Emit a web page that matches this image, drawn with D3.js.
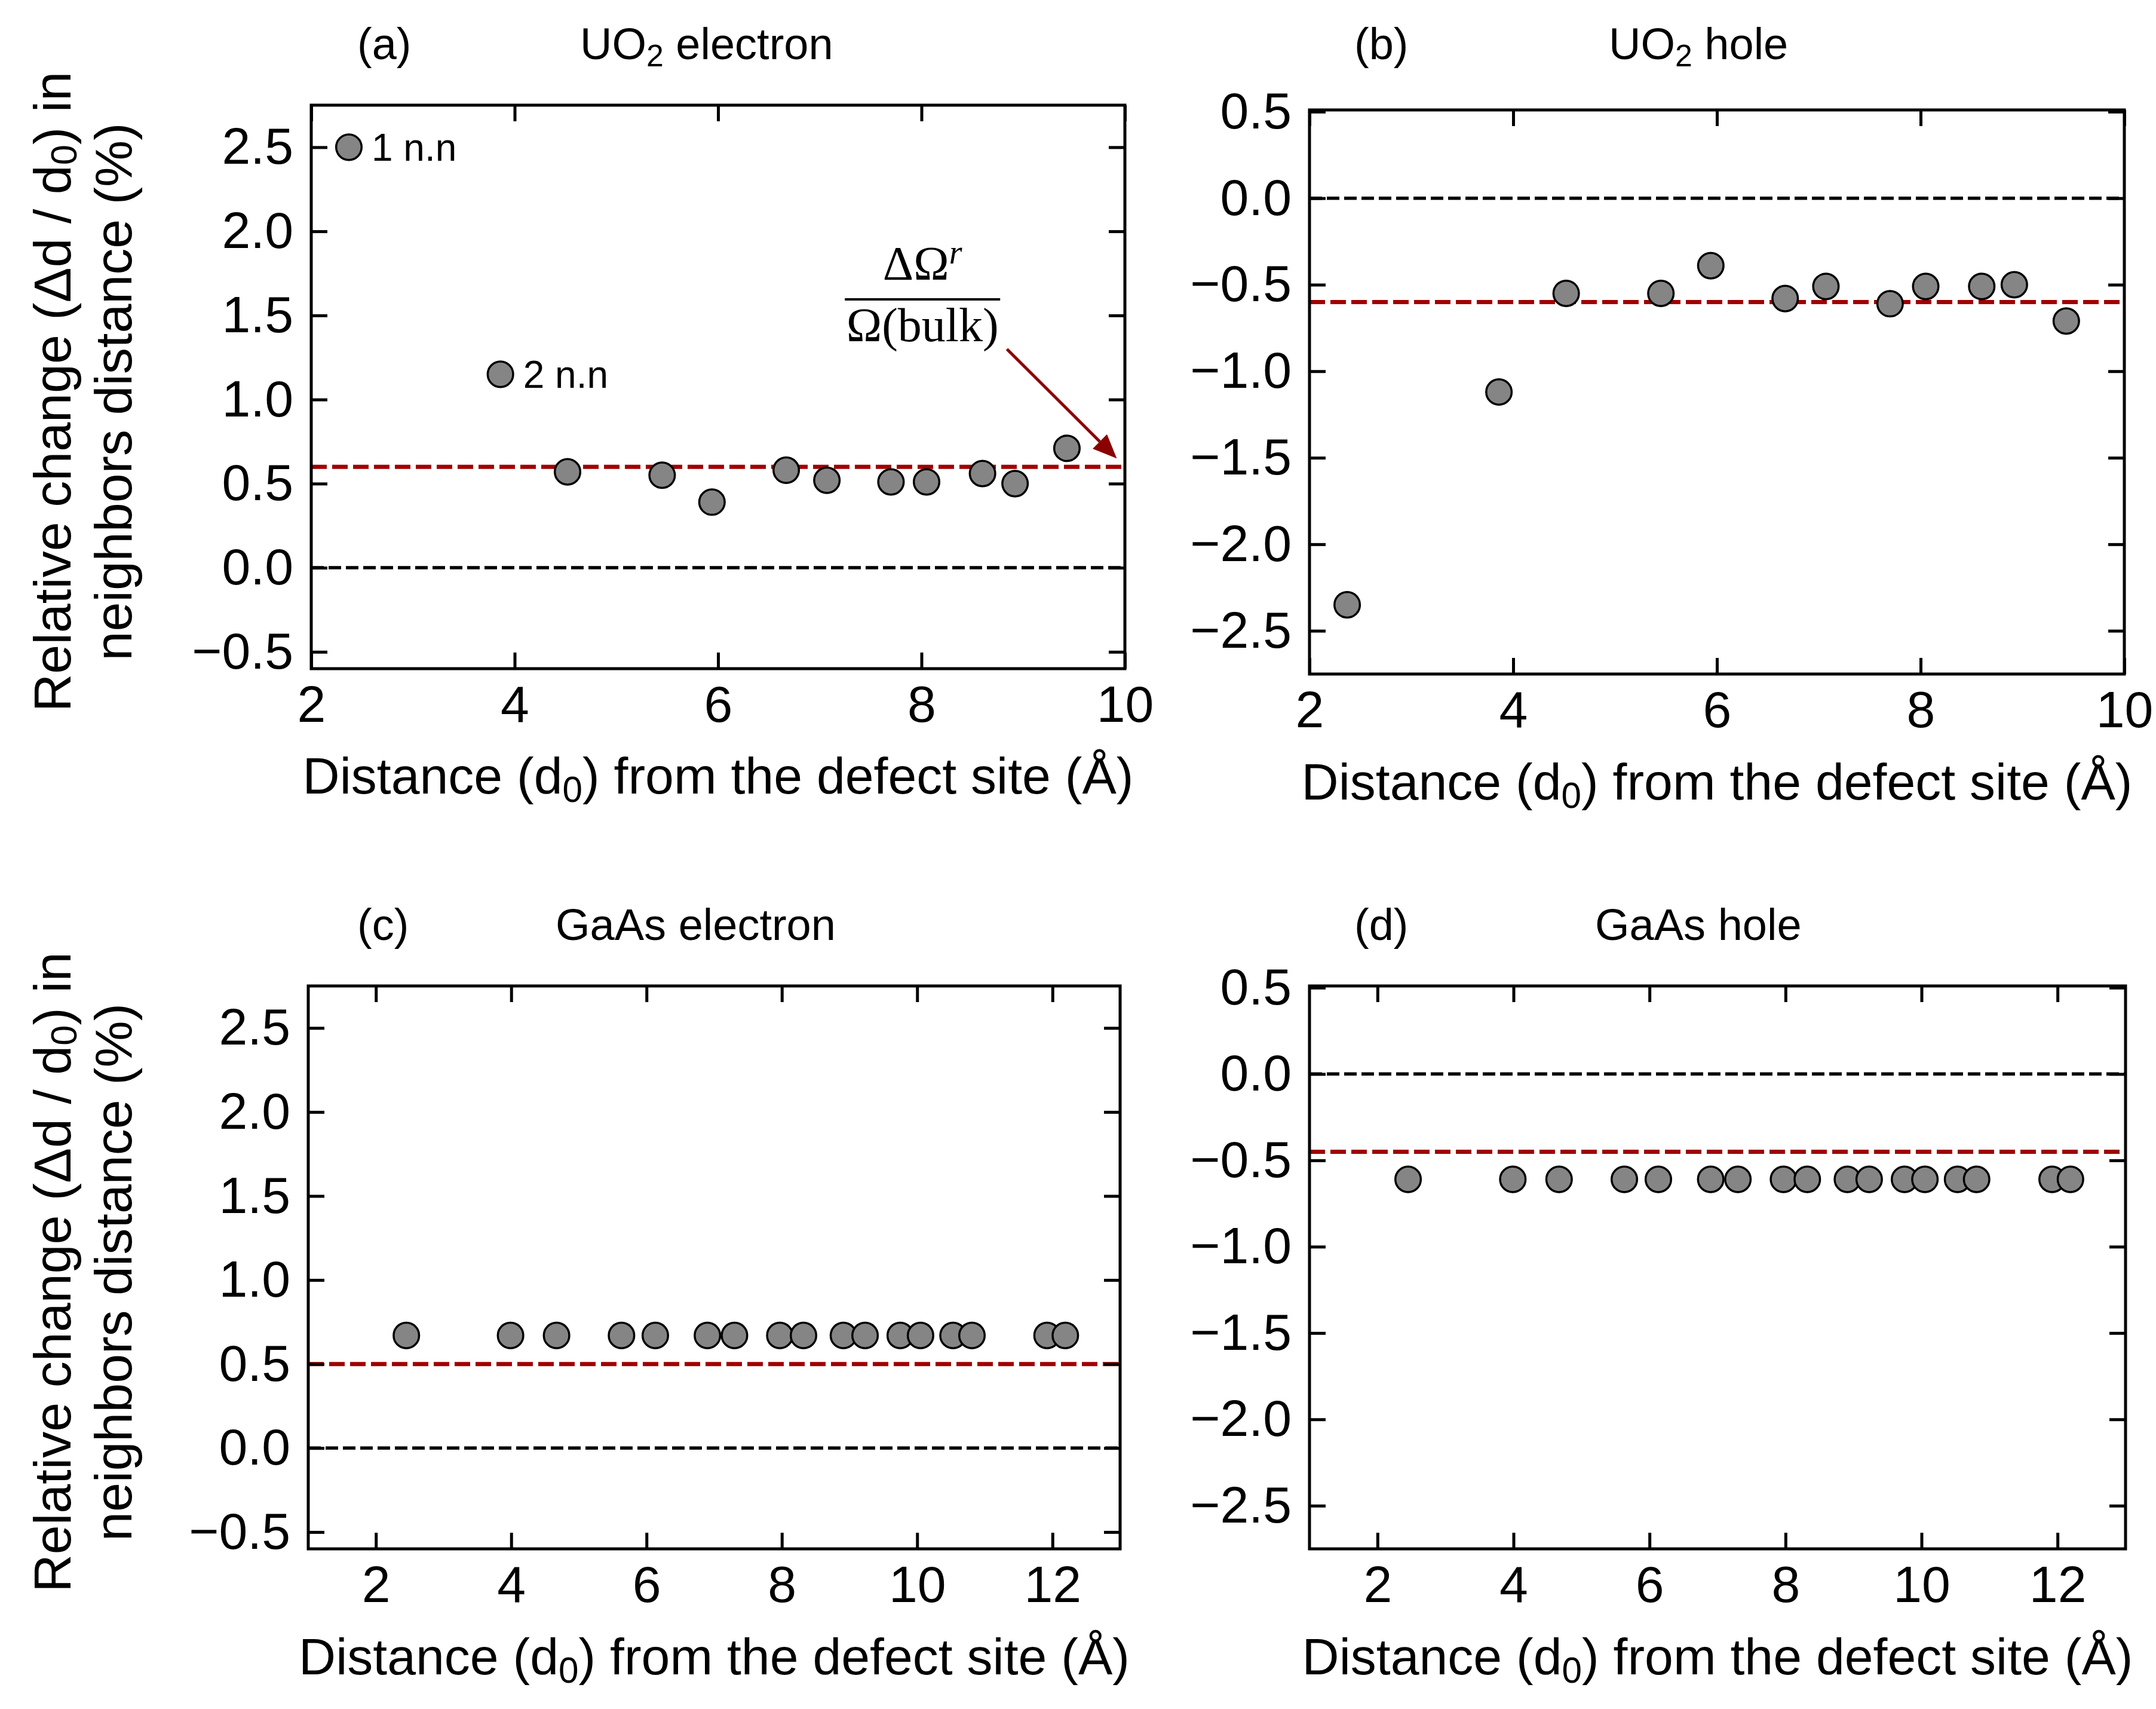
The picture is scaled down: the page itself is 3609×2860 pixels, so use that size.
<!DOCTYPE html>
<html>
<head>
<meta charset="utf-8">
<script src="https://cdn.jsdelivr.net/npm/d3@7"></script>
<style>
  body { margin: 0; background: #fff; }
  text { font-family: "Liberation Sans", Arial, Helvetica, sans-serif; fill: #000; }
</style>
</head>
<body>
<svg id="fig"></svg>
<script>
// ---- data ----
var uo2Dist      = [2.37, 3.86, 4.52, 5.45, 5.94, 6.67, 7.07, 7.70, 8.05, 8.60, 8.92, 9.43];
var uo2Electron  = [2.50, 1.15, 0.57, 0.55, 0.39, 0.58, 0.52, 0.51, 0.51, 0.56, 0.50, 0.71];
var uo2Hole      = [-2.35, -1.12, -0.55, -0.55, -0.39, -0.58, -0.51, -0.61, -0.51, -0.51, -0.50, -0.71];

var gaasDist     = [2.45, 3.99, 4.67, 5.63, 6.13, 6.90, 7.30, 7.97, 8.32, 8.91, 9.23, 9.75, 10.05, 10.53, 10.81, 11.92, 12.19];
var gaasElectron = [0.67, 0.67, 0.67, 0.67, 0.67, 0.67, 0.67, 0.67, 0.67, 0.67, 0.67, 0.67, 0.67, 0.67, 0.67, 0.67, 0.67];
var gaasHole     = [-0.61, -0.61, -0.61, -0.61, -0.61, -0.61, -0.61, -0.61, -0.61, -0.61, -0.61, -0.61, -0.61, -0.61, -0.61, -0.61, -0.61];

// relative volume change lines (red dashed)
var bulkLevel = { a: 0.60, b: -0.60, c: 0.50, d: -0.45 };

var xTicksUO2  = [2, 4, 6, 8, 10];
var xTicksGaAs = [2, 4, 6, 8, 10, 12];
var yTicksPos  = [-0.5, 0.0, 0.5, 1.0, 1.5, 2.0, 2.5];
var yTicksNeg  = [-2.5, -2.0, -1.5, -1.0, -0.5, 0.0, 0.5];

var nnLabels = [{ idx: 0, text: "1 n.n" }, { idx: 1, text: "2 n.n" }];
var arrowFrom = [8.84, 1.30];
var arrowTo   = [9.92, 0.65];
var fracAt    = [8.01, 1.595];

// ---- layout ----
var W = 3609, H = 2860;
var svg = d3.select("#fig").attr("width", W).attr("height", H);

var panels = [
  { id: "a", tag: "(a)", title: ["UO", "2", " electron"], x: uo2Dist, y: uo2Electron,
    box: [521, 1883, 176, 1119], xd: [2, 10], yd: [-0.6, 2.75], xt: xTicksUO2, yt: yTicksPos,
    tagX: 598, titleX: 971, titleY: 99, xlabY: 1328, ylab: true },
  { id: "b", tag: "(b)", title: ["UO", "2", " hole"], x: uo2Dist, y: uo2Hole,
    box: [2192, 3556, 184, 1128], xd: [2, 10], yd: [-2.75, 0.51], xt: xTicksUO2, yt: yTicksNeg,
    tagX: 2267, titleX: 2693, titleY: 99, xlabY: 1338, ylab: false },
  { id: "c", tag: "(c)", title: ["GaAs electron"], x: gaasDist, y: gaasElectron,
    box: [516, 1875, 1650, 2592], xd: [1, 13], yd: [-0.6, 2.75], xt: xTicksGaAs, yt: yTicksPos,
    tagX: 598, titleX: 930, titleY: 1573, xlabY: 2802, ylab: true },
  { id: "d", tag: "(d)", title: ["GaAs hole"], x: gaasDist, y: gaasHole,
    box: [2192, 3558, 1650, 2592], xd: [1, 13], yd: [-2.75, 0.51], xt: xTicksGaAs, yt: yTicksNeg,
    tagX: 2267, titleX: 2670, titleY: 1573, xlabY: 2802, ylab: false }
];

var tickLen = 27, tickFont = 86, labFont = 86, titleFont = 74;
var fmt = d3.format(".1f");

function styleAxis(g) {
  g.attr("font-size", tickFont).attr("font-family", null);
  g.select(".domain").remove();
  g.selectAll(".tick line").attr("stroke", "#000").attr("stroke-width", 5);
}

panels.forEach(function(p) {
  var L = p.box[0], R = p.box[1], T = p.box[2], B = p.box[3];
  var x = d3.scaleLinear().domain(p.xd).range([L, R]);
  var y = d3.scaleLinear().domain(p.yd).range([B, T]);
  var g = svg.append("g").attr("class", "panel-" + p.id);

  // zero line
  g.append("line")
    .attr("x1", L).attr("x2", R)
    .attr("y1", y(0)).attr("y2", y(0))
    .attr("stroke", "#000").attr("stroke-width", 5.5)
    .attr("stroke-dasharray", "21,8");

  // bulk relaxation line
  g.append("line")
    .attr("x1", L).attr("x2", R)
    .attr("y1", y(bulkLevel[p.id])).attr("y2", y(bulkLevel[p.id]))
    .attr("stroke", "#a00000").attr("stroke-width", 7)
    .attr("stroke-dasharray", "26,9");

  // points (drawn above the lines)
  g.selectAll("circle")
    .data(p.x.map(function(d, i) { return [d, p.y[i]]; }))
    .enter().append("circle")
      .attr("cx", function(d) { return x(d[0]); })
      .attr("cy", function(d) { return y(d[1]); })
      .attr("r", 21.3)
      .attr("fill", "#858585")
      .attr("stroke", "#000")
      .attr("stroke-width", 3.5);

  // axes, ticks pointing inward on all sides
  g.append("g").attr("transform", "translate(0," + B + ")")
    .call(d3.axisBottom(x).tickValues(p.xt).tickFormat(d3.format("d"))
      .tickSizeInner(-tickLen).tickSizeOuter(0).tickPadding(28))
    .call(styleAxis);
  g.append("g").attr("transform", "translate(0," + T + ")")
    .call(d3.axisTop(x).tickValues(p.xt).tickFormat("")
      .tickSizeInner(-tickLen).tickSizeOuter(0))
    .call(styleAxis);
  g.append("g").attr("transform", "translate(" + L + ",0)")
    .call(d3.axisLeft(y).tickValues(p.yt).tickFormat(fmt)
      .tickSizeInner(-tickLen).tickSizeOuter(0).tickPadding(30))
    .call(styleAxis);
  g.append("g").attr("transform", "translate(" + R + ",0)")
    .call(d3.axisRight(y).tickValues(p.yt).tickFormat("")
      .tickSizeInner(-tickLen).tickSizeOuter(0))
    .call(styleAxis);

  // frame
  g.append("rect")
    .attr("x", L).attr("y", T)
    .attr("width", R - L).attr("height", B - T)
    .attr("fill", "none").attr("stroke", "#000").attr("stroke-width", 5);

  // panel tag and title
  g.append("text").attr("x", p.tagX).attr("y", p.titleY)
    .attr("font-size", titleFont).text(p.tag);
  var tt = g.append("text").attr("x", p.titleX).attr("y", p.titleY)
    .attr("font-size", titleFont);
  if (p.title.length === 1) {
    tt.text(p.title[0]);
  } else {
    tt.append("tspan").text(p.title[0]);
    tt.append("tspan").attr("font-size", titleFont * 0.7).attr("dy", 12).text(p.title[1]);
    tt.append("tspan").attr("dy", -12).text(p.title[2]);
  }

  // x label
  var xl = g.append("text")
    .attr("x", (L + R) / 2).attr("y", p.xlabY)
    .attr("text-anchor", "middle").attr("font-size", labFont);
  xl.append("tspan").text("Distance (d");
  xl.append("tspan").attr("font-size", labFont * 0.7).attr("dy", 14).text("0");
  xl.append("tspan").attr("dy", -14).text(") from the defect site (Å)");

  // y label (two lines)
  if (p.ylab) {
    var cy = (T + B) / 2 + 8;
    var yl1 = g.append("text")
      .attr("transform", "translate(118," + cy + ") rotate(-90)")
      .attr("text-anchor", "middle").attr("font-size", 88);
    yl1.append("tspan").text("Relative change (Δd / d");
    yl1.append("tspan").attr("font-size", 88 * 0.7).attr("dy", 10).text("0");
    yl1.append("tspan").attr("dy", -10).text(") in");
    g.append("text")
      .attr("transform", "translate(220," + cy + ") rotate(-90)")
      .attr("text-anchor", "middle").attr("font-size", 88)
      .text("neighbors distance (%)");
  }

  // annotations for panel (a)
  if (p.id === "a") {
    g.selectAll(".nn")
      .data(nnLabels)
      .enter().append("text")
        .attr("class", "nn")
        .attr("x", function(d) { return x(p.x[d.idx]) + 38; })
        .attr("y", function(d) { return y(p.y[d.idx]) + 23; })
        .attr("font-size", 64)
        .text(function(d) { return d.text; });

    var x0 = x(arrowFrom[0]), y0 = y(arrowFrom[1]);
    var x1 = x(arrowTo[0]), y1 = y(arrowTo[1]);
    var ang = Math.atan2(y1 - y0, x1 - x0);
    var hl = 40, hw = 17;
    var bx = x1 - hl * Math.cos(ang), by = y1 - hl * Math.sin(ang);
    g.append("line")
      .attr("x1", x0).attr("y1", y0).attr("x2", bx).attr("y2", by)
      .attr("stroke", "#8b0000").attr("stroke-width", 5);
    g.append("path")
      .attr("d", d3.line()([
        [x1, y1],
        [bx + hw * Math.sin(ang), by - hw * Math.cos(ang)],
        [bx - hw * Math.sin(ang), by + hw * Math.cos(ang)]
      ]) + "Z")
      .attr("fill", "#8b0000");

    var fx = x(fracAt[0]), fy = y(fracAt[1]);
    var num = g.append("text").attr("x", fx).attr("y", fy - 33)
      .attr("text-anchor", "middle").attr("font-size", 80)
      .style("font-family", "'Liberation Serif', 'DejaVu Serif', serif");
    num.append("tspan").text("ΔΩ");
    num.append("tspan").attr("font-size", 56).attr("font-style", "italic")
      .attr("dy", -27).text("r");
    g.append("line")
      .attr("x1", fx - 130).attr("x2", fx + 130)
      .attr("y1", fy).attr("y2", fy)
      .attr("stroke", "#000").attr("stroke-width", 4);
    g.append("text").attr("x", fx).attr("y", fy + 70)
      .attr("text-anchor", "middle").attr("font-size", 80)
      .style("font-family", "'Liberation Serif', 'DejaVu Serif', serif")
      .text("Ω(bulk)");
  }
});
</script>
</body>
</html>
